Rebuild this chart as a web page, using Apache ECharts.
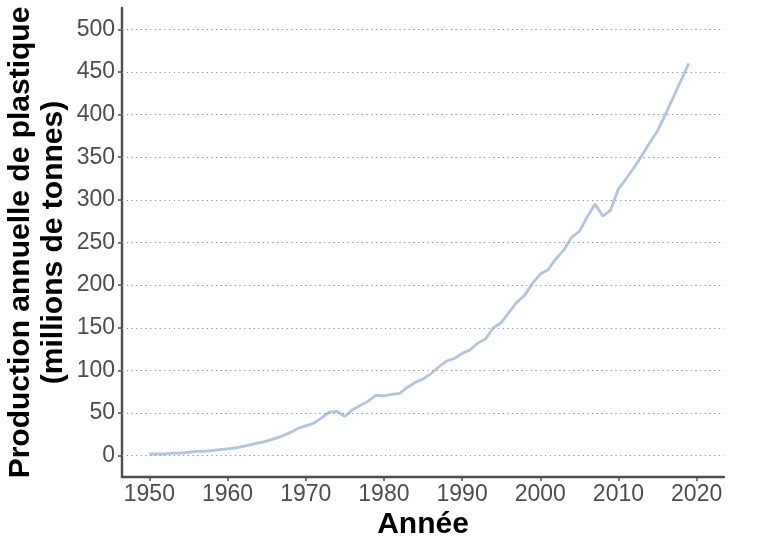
<!DOCTYPE html>
<html lang="fr">
<head>
<meta charset="UTF-8">
<title>Production annuelle de plastique</title>
<script src="https://cdn.jsdelivr.net/npm/echarts@6/dist/echarts.min.js"></script>
<style>
  html, body { margin: 0; padding: 0; background: #fff; }
  #chart { width: 768px; height: 549px; }
</style>
</head>
<body>
<div id="chart"></div>
<script>
// années et production mondiale (millions de tonnes)
var years = [];
for (var y = 1950; y <= 2019; y++) years.push(y);
var production = [
  2, 2, 2, 3, 3, 4, 5, 5, 6, 7,
  8, 9, 11, 13, 15, 17, 20, 23, 27, 32,
  35, 38, 44, 51, 52, 46, 54, 59, 64, 71,
  70, 72, 73, 80, 86, 90, 96, 104, 111, 114,
  120, 124, 132, 137, 150, 156, 168, 180, 188, 202,
  213, 218, 231, 241, 256, 263, 280, 295, 281, 288,
  313, 325, 338, 352, 367, 381, 400, 420, 440, 460
];
var xTicks = [1950, 1960, 1970, 1980, 1990, 2000, 2010, 2020];
var yTicks = [0, 50, 100, 150, 200, 250, 300, 350, 400, 450, 500];

var chart = echarts.init(document.getElementById('chart'));

var axisGray = '#4d4d4d';
var font = 'Liberation Sans, Arial, sans-serif';

var option = {
  backgroundColor: '#fff',
  animation: false,
  grid: { left: 122, right: 44, top: 8, bottom: 72, outerBoundsMode: 'none', containLabel: false },
  xAxis: {
    type: 'value',
    min: 1946.5,
    max: 2023.5,
    name: 'Année',
    nameLocation: 'middle',
    nameGap: 33,
    nameMoveOverlap: false,
    nameTextStyle: { fontFamily: font, fontSize: 30, fontWeight: 'bold', color: '#000' },
    axisLine: { show: true, onZero: false, lineStyle: { color: axisGray, width: 2.4 } },
    axisTick: { show: true, length: 4, customValues: xTicks, lineStyle: { color: axisGray, width: 1.5 } },
    axisLabel: {
      customValues: xTicks, margin: 6, fontFamily: font, fontSize: 23, color: axisGray,
      formatter: function (v) { return String(v); }
    },
    splitLine: { show: false }
  },
  yAxis: {
    type: 'value',
    min: -25,
    max: 525,
    name: 'Production annuelle de plastique\n(millions de tonnes)',
    nameLocation: 'middle',
    nameGap: 52,
    nameMoveOverlap: false,
    nameTextStyle: { fontFamily: font, fontSize: 30, fontWeight: 'bold', color: '#000', lineHeight: 33 },
    axisLine: { show: true, onZero: false, lineStyle: { color: axisGray, width: 2.4 } },
    axisTick: { show: true, length: 4, customValues: yTicks, lineStyle: { color: axisGray, width: 1.5 } },
    axisLabel: { customValues: yTicks, margin: 7, fontFamily: font, fontSize: 23, color: axisGray },
    splitLine: { show: false }
  },
  series: [{
    type: 'line',
    data: years.map(function (yr, i) { return [yr, production[i]]; }),
    showSymbol: false,
    lineStyle: { color: '#b0c4de', width: 2.8 },
    itemStyle: { color: '#b0c4de' },
    markLine: {
      silent: true,
      symbol: 'none',
      label: { show: false },
      lineStyle: { type: [1.2, 3.5], color: '#8c8c8c', width: 1.2 },
      data: yTicks.map(function (v) { return { yAxis: v }; })
    }
  }]
};

chart.setOption(option);
</script>
</body>
</html>
